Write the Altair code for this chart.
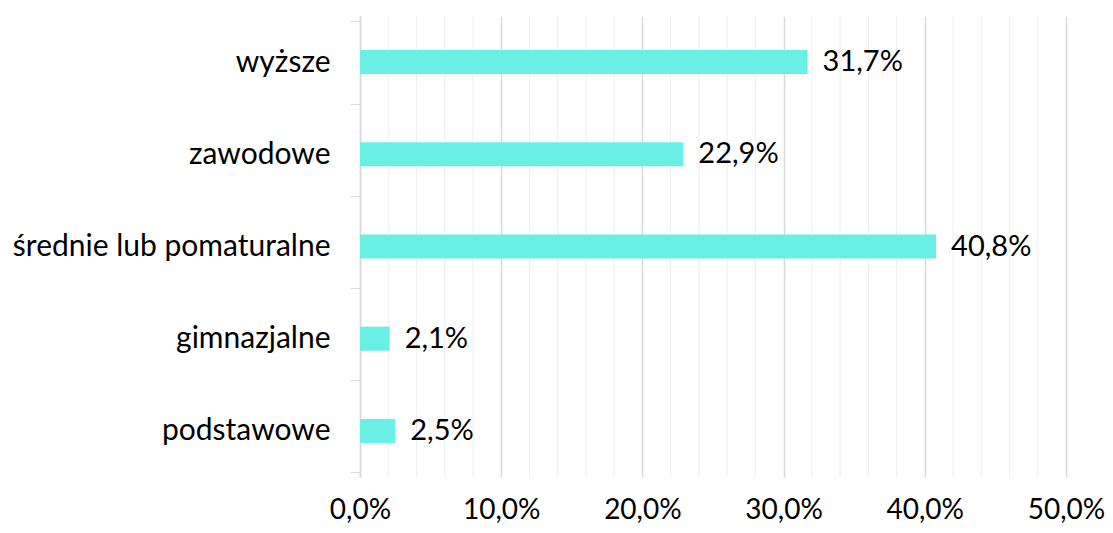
import altair as alt
import pandas as pd

categories = ["wyższe", "zawodowe", "średnie lub pomaturalne", "gimnazjalne", "podstawowe"]
values = [31.7, 22.9, 40.8, 2.1, 2.5]
major_ticks = [0, 10, 20, 30, 40, 50]
minor_ticks = [2, 4, 6, 8, 12, 14, 16, 18, 22, 24, 26, 28, 32, 34, 36, 38, 42, 44, 46, 48]

df = pd.DataFrame({
    "cat": categories,
    "val": values,
    "label": [f"{v:.1f}%".replace(".", ",") for v in values],
})
minor_df = pd.DataFrame({"m": minor_ticks})

FONT = "Lato"
x_scale = alt.Scale(domain=[0, 50], nice=False, zero=True)
x_axis = alt.Axis(
    values=major_ticks,
    grid=True,
    gridColor="#d9d9d9",
    gridWidth=1.5,
    domain=False,
    ticks=False,
    labelFont=FONT,
    labelFontSize=28,
    labelColor="#000000",
    labelPadding=19,
    labelFlush=False,
    labelExpr="replace(format(datum.value, '.1f'), '.', ',') + '%'",
)

minor = alt.Chart(minor_df).mark_rule(color="#eeeeee", strokeWidth=1).encode(
    x=alt.X("m:Q", scale=x_scale, axis=x_axis, title=None)
)

base = alt.Chart(df).encode(
    y=alt.Y(
        "cat:N",
        sort=categories,
        title=None,
        axis=alt.Axis(
            tickBand="extent",
            tickSize=10,
            tickColor="#d9d9d9",
            domainColor="#d9d9d9",
            domainWidth=1.5,
            labelFont=FONT,
            labelFontSize=30,
            labelColor="#000000",
            labelPadding=20,
            labelLimit=0,
            grid=False,
        ),
    )
)

bars = base.mark_bar(size=24, color="#68F0E5").encode(
    x=alt.X("val:Q", scale=x_scale, title=None, axis=x_axis)
)

text = base.mark_text(align="left", baseline="middle", dx=15, font=FONT, fontSize=29, color="#000000").encode(
    x=alt.X("val:Q", scale=x_scale),
    text="label:N",
)

chart = alt.layer(minor, bars, text).properties(
    width=706,
    height=461,
    autosize=alt.AutoSizeParams(type="none"),
    padding={"left": 352, "top": 8, "right": 39, "bottom": 48},
).configure_view(stroke=None)

chart.save("out.html", embed_options={"renderer": "svg", "actions": False})
